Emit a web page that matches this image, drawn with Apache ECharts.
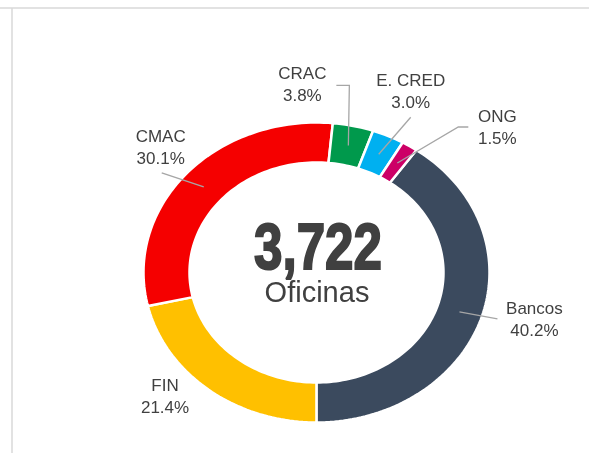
<!DOCTYPE html>
<html>
<head>
<meta charset="utf-8">
<script src="https://cdn.jsdelivr.net/npm/echarts@6/dist/echarts.min.js"></script>
<style>
  html, body { margin: 0; padding: 0; background: #fff; }
  #chart { width: 589px; height: 453px; }
</style>
</head>
<body>
<div id="chart"></div>
<script>
// datos
var categories = ['Bancos', 'FIN', 'CMAC', 'CRAC', 'E. CRED', 'ONG'];
var shares = [40.2, 21.4, 30.1, 3.8, 3.0, 1.5];
var totalOffices = 3722;
var centerCaption = 'Oficinas';

var colors = ['#3b4a5e', '#ffc000', '#f50000', '#00994c', '#00b0f0', '#cc0066'];

// posición de las etiquetas (relativa al punto medio del anillo), como en el original
var labelOffset = [[75, 8], [-58, 23], [-43, -38], [-46, -60], [32, -62], [100, -35]];
var leaderPts = [[[38, 7]], [], [[-42, -14]], [[1, -60], [-12, -60]], [[32, -37]], [[61, -36], [71, -36]]];

// geometria del anillo (elíptico)
var cx = 316.5, cy = 272.5;
var rxOut = 173, ryOut = 150, rxIn = 127, ryIn = 110;
var startDeg = 35.3;

var total = shares.reduce(function (a, b) { return a + b; }, 0);

function pt(rx, ry, deg) {
    var t = deg * Math.PI / 180;
    return [cx + rx * Math.sin(t), cy - ry * Math.cos(t)];
}

function renderItem(params, api) {
    var i = params.dataIndex;
    var before = 0;
    for (var j = 0; j < i; j++) before += shares[j];
    var a0 = startDeg + before / total * 360;
    var a1 = a0 + api.value(0) / total * 360;
    var n = Math.max(4, Math.ceil((a1 - a0) / 1.5));
    var pts = [];
    var k;
    for (k = 0; k <= n; k++) pts.push(pt(rxOut, ryOut, a0 + (a1 - a0) * k / n));
    for (k = n; k >= 0; k--) pts.push(pt(rxIn, ryIn, a0 + (a1 - a0) * k / n));

    var mid = (a0 + a1) / 2;
    var anchor = pt((rxOut + rxIn) / 2, (ryOut + ryIn) / 2, mid);
    var children = [{
        type: 'polygon',
        shape: { points: pts },
        style: { fill: colors[i], stroke: '#fff', lineWidth: 2.5 }
    }];

    if (leaderPts[i].length) {
        var line = [anchor].concat(leaderPts[i].map(function (p) {
            return [anchor[0] + p[0], anchor[1] + p[1]];
        }));
        children.push({
            type: 'polyline',
            shape: { points: line },
            style: { stroke: '#a6a6a6', lineWidth: 1.3, fill: null }
        });
    }

    children.push({
        type: 'text',
        style: {
            text: categories[i] + '\n' + api.value(0).toFixed(1) + '%',
            x: anchor[0] + labelOffset[i][0],
            y: anchor[1] + labelOffset[i][1],
            align: 'center',
            verticalAlign: 'middle',
            lineHeight: 22,
            fill: '#404040',
            font: '17px "Liberation Sans", Arial, sans-serif'
        }
    });

    return { type: 'group', children: children };
}

var chart = echarts.init(document.getElementById('chart'));

chart.setOption({
    animation: false,
    backgroundColor: '#fff',
    graphic: [
        {
            type: 'line',
            shape: { x1: 0, y1: 8, x2: 589, y2: 8 },
            style: { stroke: '#d9d9d9', lineWidth: 1.5 }
        },
        {
            type: 'line',
            shape: { x1: 12, y1: 8, x2: 12, y2: 453 },
            style: { stroke: '#d9d9d9', lineWidth: 1.5 }
        },
        {
            type: 'text',
            x: 318, y: 251,
            scaleX: 0.8,
            style: {
                text: totalOffices.toLocaleString('en-US'),
                x: 0, y: 0,
                align: 'center',
                verticalAlign: 'middle',
                fill: '#404040',
                stroke: '#404040',
                lineWidth: 2,
                font: '900 64px "Liberation Sans", Arial, sans-serif'
            }
        },
        {
            type: 'text',
            x: 317, y: 294,
            style: {
                text: centerCaption,
                x: 0, y: 0,
                align: 'center',
                verticalAlign: 'middle',
                fill: '#404040',
                font: '29px "Liberation Sans", Arial, sans-serif'
            }
        }
    ],
    series: [{
        type: 'custom',
        coordinateSystem: 'none',
        renderItem: renderItem,
        data: shares
    }]
});
</script>
</body>
</html>
